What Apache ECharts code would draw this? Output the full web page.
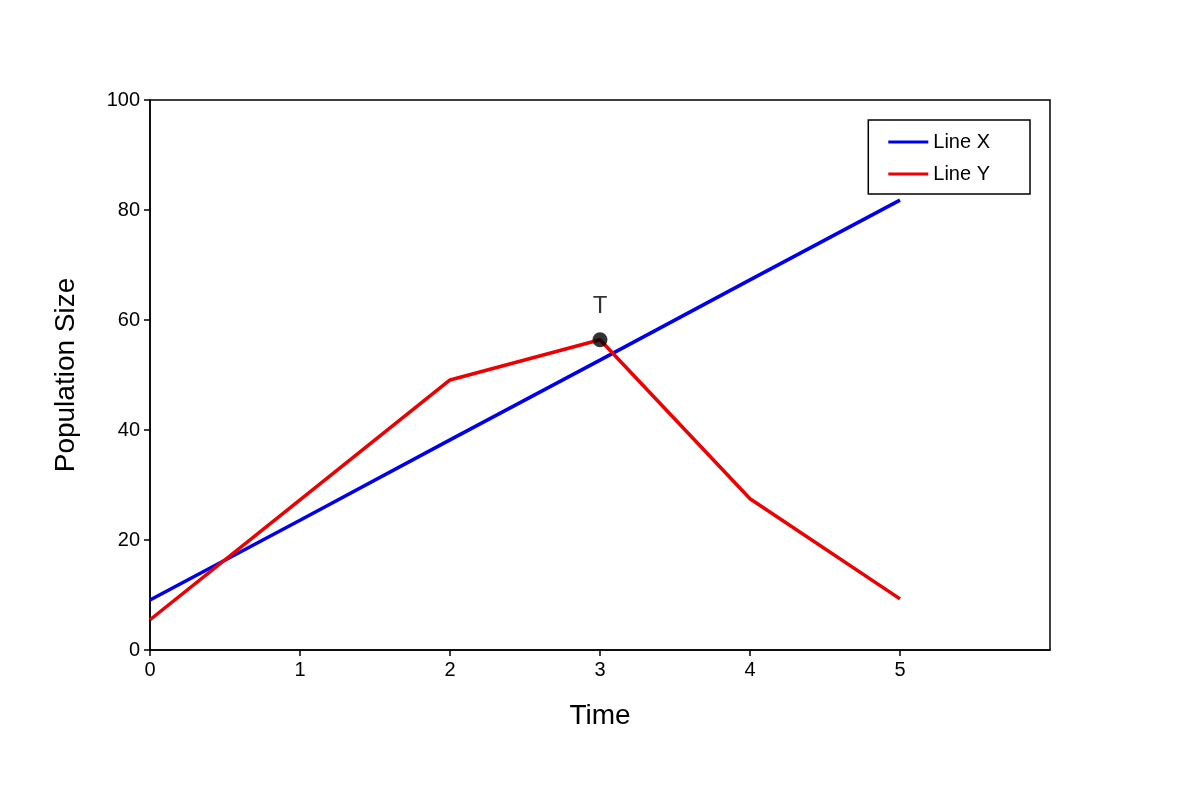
<!DOCTYPE html>
<html><head><meta charset="utf-8">
<script src="https://cdn.jsdelivr.net/npm/echarts@6/dist/echarts.min.js"></script>
<style>html,body{margin:0;padding:0;background:#fff}#c{width:1200px;height:800px}</style>
</head><body><div id="c"></div>
<script>
const times = [0, 1, 2, 3, 4, 5];
const lineX = [9.1, 23.6, 38.2, 52.7, 67.3, 81.8];
const lineY = [5.5, 27.3, 49.1, 56.4, 27.5, 9.3];
const markT = [[3, 56.4]];
const markLabel = 'T';
const chart = echarts.init(document.getElementById('c'));
const font = 'Liberation Sans, Arial, sans-serif';
chart.setOption({
  animation: false,
  grid: {left: 150, right: 150, top: 100, bottom: 150, show: true, borderColor: '#000', borderWidth: 1.5},
  legend: {
    right: 170, top: 120, orient: 'vertical', itemWidth: 40, itemHeight: 3, itemGap: 12,
    borderColor: '#000', borderWidth: 1.5, padding: [12, 40, 10, 20],
    textStyle: {fontFamily: font, fontSize: 20, color: '#000'},
    data: [{name: 'Line X', icon: 'rect'}, {name: 'Line Y', icon: 'rect'}]
  },
  xAxis: {
    type: 'value', min: 0, max: 6, interval: 1,
    name: 'Time', nameLocation: 'middle', nameGap: 52,
    nameTextStyle: {fontFamily: font, fontSize: 28, color: '#000'},
    axisLine: {lineStyle: {color: '#000', width: 1.5}},
    axisTick: {show: true, length: 6, lineStyle: {color: '#000', width: 1.5}, customValues: times},
    axisLabel: {fontFamily: font, fontSize: 20, color: '#000', margin: 10, customValues: times},
    splitLine: {show: false}
  },
  yAxis: {
    type: 'value', min: 0, max: 100, interval: 20,
    name: 'Population Size', nameLocation: 'middle', nameGap: 70,
    nameTextStyle: {fontFamily: font, fontSize: 28, color: '#000'},
    axisLine: {show: true, lineStyle: {color: '#000', width: 1.5}},
    axisTick: {show: true, length: 6, lineStyle: {color: '#000', width: 1.5}},
    axisLabel: {fontFamily: font, fontSize: 20, color: '#000', margin: 10},
    splitLine: {show: false}
  },
  series: [
    {name: 'Line X', type: 'line', data: times.map((t, i) => [t, lineX[i]]), showSymbol: false,
     color: '#0000ee', lineStyle: {width: 3.5, color: '#0000ee'}},
    {name: 'Line Y', type: 'line', data: times.map((t, i) => [t, lineY[i]]), showSymbol: false,
     color: '#ee0000', lineStyle: {width: 3.5, color: '#ee0000'}},
    {name: 'T', type: 'scatter', data: markT, symbolSize: 15, itemStyle: {color: '#000'}, z: 5,
     label: {show: true, position: 'top', distance: 14, formatter: markLabel, fontFamily: font, fontSize: 24, color: '#000'}}
  ]
});
</script></body></html>
